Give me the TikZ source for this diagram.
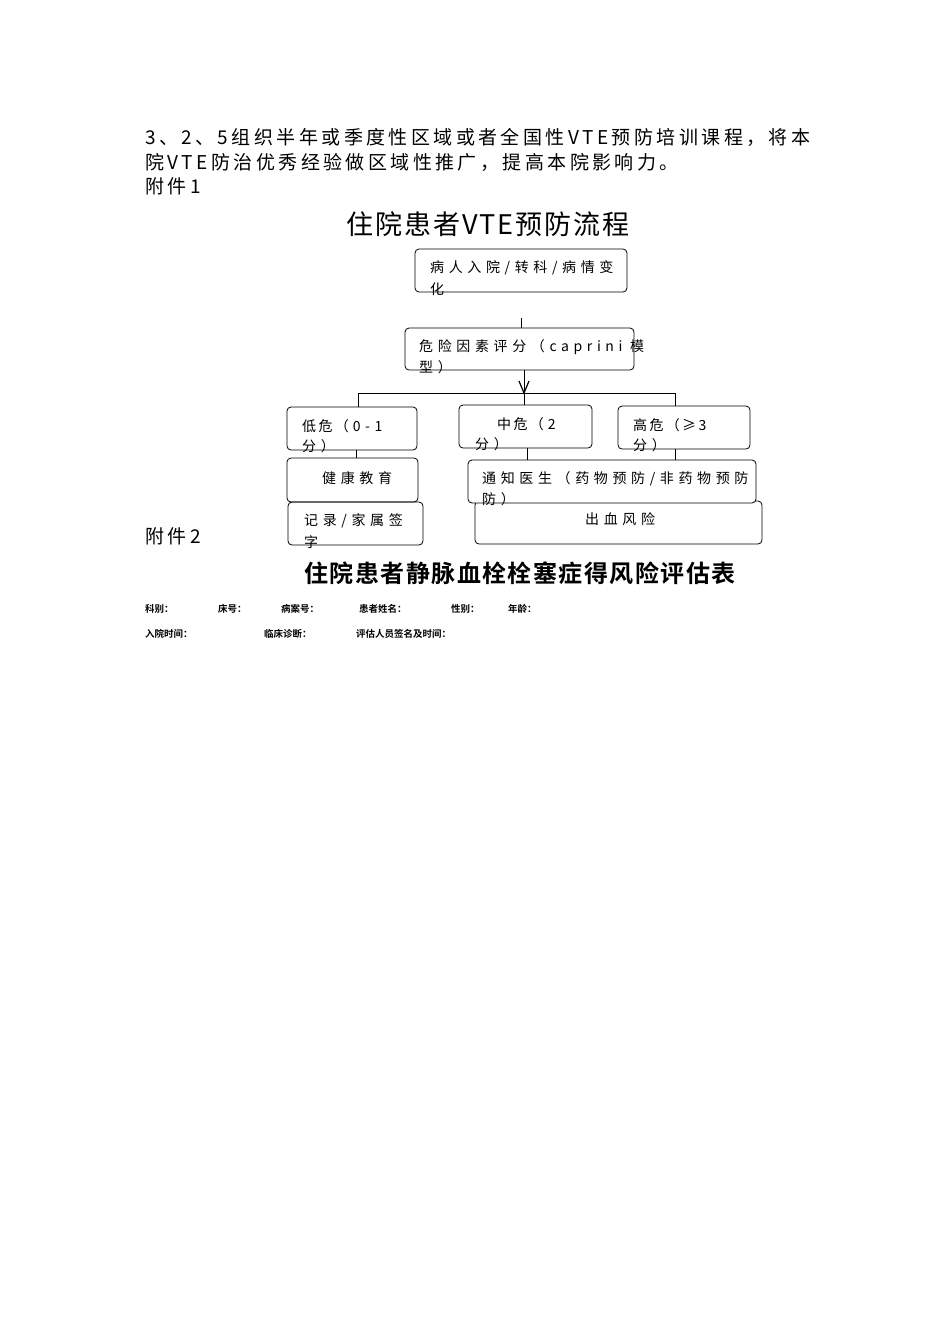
\documentclass[tikz,border=0pt]{standalone}
\usepackage{fontspec}
\newfontfamily\cjk{Noto Sans CJK SC}
\newfontfamily\cjkbox[LetterSpace=33]{Noto Sans CJK SC}
\newfontfamily\cjkpara[LetterSpace=18]{Noto Sans CJK SC}
\newfontfamily\cjkt[LetterSpace=7]{Noto Sans CJK SC}
\newfontfamily\cjkbt[LetterSpace=6]{Noto Sans CJK SC Bold}
\newfontfamily\cjkb{Noto Sans CJK SC Bold}
\begin{document}
\begin{tikzpicture}[x=1pt,y=-1pt,
  box/.style={draw,rounded corners=4pt,line width=0.8pt,inner sep=0pt},
  txt/.style={anchor=west,inner sep=0pt,font=\cjkbox\fontsize{14}{14}\selectfont},
  para/.style={anchor=west,inner sep=0pt,font=\cjkpara\fontsize{19}{19}\selectfont},
  lbl/.style={anchor=west,inner sep=0pt,font=\cjkb\fontsize{9.5}{10}\selectfont},
  ln/.style={line width=0.8pt}]
\useasboundingbox (0,0) rectangle (950,1344);
\fill[white] (0,0) rectangle (950,1344);
% paragraph
\node[para] (p1) at (145,137) {3、2、5组织半年或季度性区域或者全国性VTE预防培训课程，将本};
\node[para] (p2) at (145,162) {院VTE防治优秀经验做区域性推广，提高本院影响力。};
\node[para] (a1) at (145,186) {附件1};
\node[inner sep=0pt,font=\cjkt\fontsize{27}{27}\selectfont] (t1) at (488,224) {住院患者VTE预防流程};
% boxes
\node[box,minimum width=212pt,minimum height=43pt] (b1) at (521,270.5) {};
\node[txt] (b1t) at (430,268) {病人入院/转科/病情变};
\node[txt] (b1u) at (430,289) {化};
\coordinate (c0) at (521,318);
\node[box,minimum width=229pt,minimum height=42pt] (b2) at (519.5,349) {};
\node[txt] (b2t) at (419,347) {危险因素评分（caprini 模};
\node[txt] (b2u) at (419,367) {型）};
\draw[ln] (c0) -- (b2.north -| c0);
\coordinate (h) at (524,393);
\coordinate (hl) at (358,393);
\coordinate (hr) at (675,393);
\draw[ln] (b2.south -| h) -- (h);
\draw[line width=1.2pt] (519,381) -- (524,393) -- (529,381);
\draw[ln] (hl) -- (hr);
\node[box,minimum width=130pt,minimum height=43pt] (lo) at (352,428.5) {};
\node[txt] (lot) at (302,426) {低\,危\,（\;0-1};
\node[txt] (lou) at (302,446) {分）};
\node[box,minimum width=133pt,minimum height=43pt] (mi) at (525.5,426.5) {};
\node[txt] (mit) at (497,424) {中\,危\,（\;2};
\node[txt] (miu) at (475,444) {分）};
\node[box,minimum width=132pt,minimum height=43pt] (hi) at (684,427.5) {};
\node[txt] (hit) at (633,425) {高\,危\,（\,≥\,3};
\node[txt] (hiu) at (633,445) {分）};
\draw[ln] (hl) -- (hl |- lo.north);
\draw[ln] (h) -- (h |- mi.north);
\draw[ln] (hr) -- (hr |- hi.north);
\node[box,minimum width=131pt,minimum height=44pt] (he) at (352.5,480) {};
\node[txt] (het) at (322,478) {健康教育};
\node[box,minimum width=135pt,minimum height=43pt] (re) at (355.5,523.5) {};
\node[txt] (ret) at (304,521) {记录/家属签};
\node[txt] (reu) at (304,542) {字};
\draw[ln] (lo.south -| 356,0) -- (he.north -| 356,0);
\node[box,minimum width=287pt,minimum height=43pt] (bl) at (618.5,522.5) {};
\node[txt] (blt) at (585,519) {出血风险};
\node[box,fill=white,minimum width=288pt,minimum height=43pt] (no) at (612,481.5) {};
\node[txt] (not) at (482,479) {通知医生（药物预防/非药物预防};
\node[txt] (nou) at (482,499) {防）};
\draw[ln] (mi.south -| 527,0) -- (no.north -| 527,0);
\draw[ln] (hi.south -| hr) -- (no.north -| hr);
\node[para] (a2) at (145,536) {附件2};
\node[inner sep=0pt,font=\cjkbt\fontsize{24}{24}\selectfont] (t2) at (520,573) {住院患者静脉血栓栓塞症得风险评估表};
\node[lbl] (l1) at (145,609) {科别：};
\node[lbl] (l2) at (218,609) {床号：};
\node[lbl] (l3) at (281,609) {病案号：};
\node[lbl] (l4) at (359,609) {患者姓名：};
\node[lbl] (l5) at (451,609) {性别：};
\node[lbl] (l6) at (508,609) {年龄：};
\node[lbl] (m1) at (145,634) {入院时间：};
\node[lbl] (m2) at (264,634) {临床诊断：};
\node[lbl] (m3) at (356,634) {评估人员签名及时间：};
\end{tikzpicture}
\end{document}
